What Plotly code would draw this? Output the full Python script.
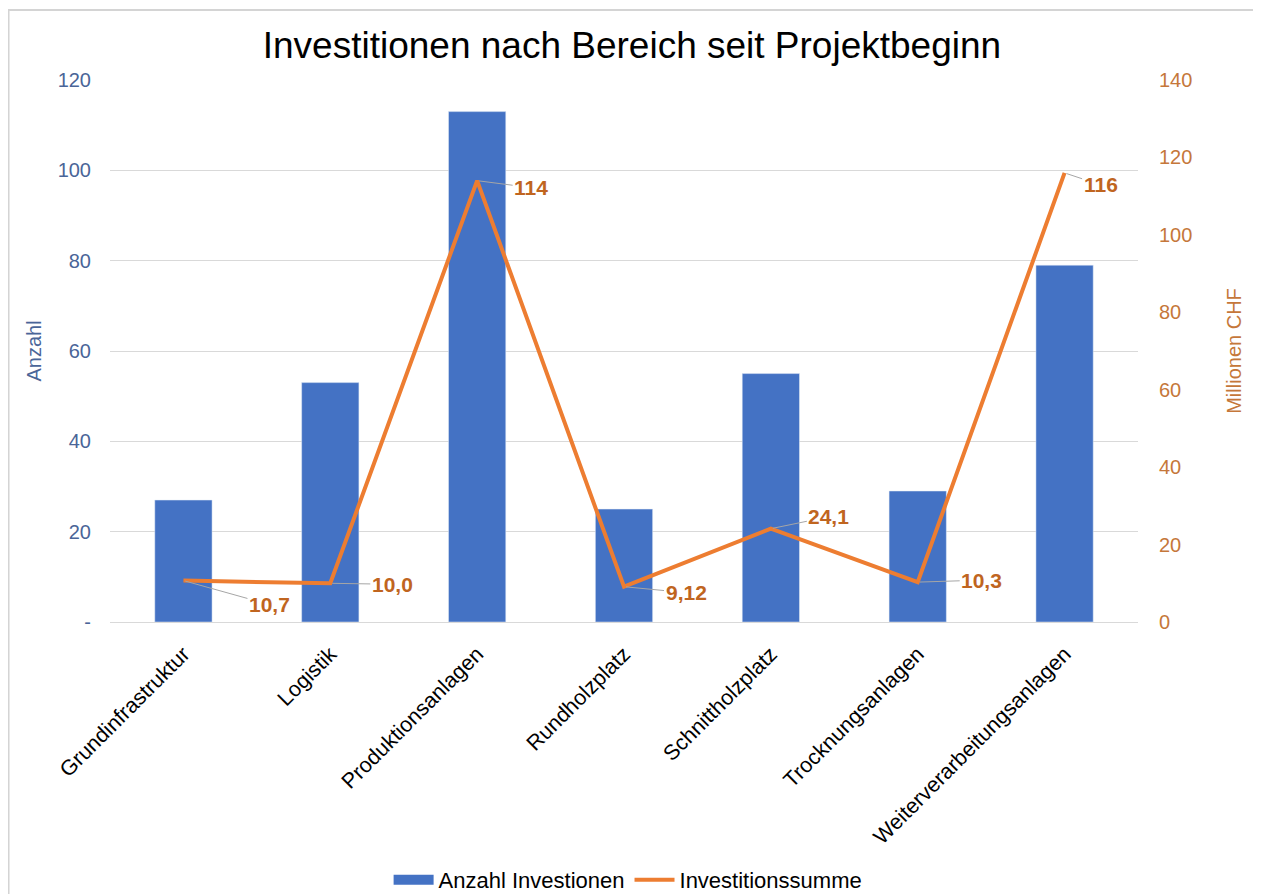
import plotly.graph_objects as go

categories = ["Grundinfrastruktur", "Logistik", "Produktionsanlagen", "Rundholzplatz",
              "Schnittholzplatz", "Trocknungsanlagen", "Weiterverarbeitungsanlagen"]
anzahl = [27, 53, 113, 25, 55, 29, 79]
summe = [10.7, 10.0, 114, 9.12, 24.1, 10.3, 116]
summe_labels = ["10,7", "10,0", "114", "9,12", "24,1", "10,3", "116"]
left_ticks = [0, 20, 40, 60, 80, 100, 120]
left_ticktext = ["-", "20", "40", "60", "80", "100", "120"]
right_ticks = [0, 20, 40, 60, 80, 100, 120, 140]

# label offsets (pixels) for leader-line labels
label_offsets = [(86, 24), (62, 1), (54, 7), (62, 6), (58, -12), (64, -2), (36, 12)]

FONT = "Liberation Sans, Arial, sans-serif"
BLUE = "#4472C4"
ORANGE = "#ED7D31"
LEFT_TICK = "#4A6598"
RIGHT_TICK = "#C5773A"
LABEL = "#C0651F"

fig = go.Figure()
fig.add_trace(go.Bar(x=categories, y=anzahl, name="Anzahl Investionen",
                     marker=dict(color=BLUE), yaxis="y", showlegend=False))
# legend entry drawn as a wide blue block, like the original
fig.add_trace(go.Scatter(x=[None], y=[None], name="Anzahl Investionen", mode="lines",
                         line=dict(color=BLUE, width=10), yaxis="y"))
fig.add_trace(go.Scatter(x=categories, y=summe, name="Investitionssumme", mode="lines",
                         line=dict(color=ORANGE, width=4), yaxis="y2"))

for c, v, t, (ax, ay) in zip(categories, summe, summe_labels, label_offsets):
    fig.add_annotation(x=c, y=v, xref="x", yref="y2", text="<b>%s</b>" % t,
                       showarrow=True, arrowhead=0, arrowwidth=1, arrowcolor="#A6A6A6",
                       ax=ax, ay=ay, standoff=2,
                       font=dict(family=FONT, size=21, color=LABEL))

fig.update_layout(
    width=1261, height=894,
    paper_bgcolor="white", plot_bgcolor="white",
    margin=dict(l=102, r=131, t=72, b=280, autoexpand=False),
    title=dict(text="Investitionen nach Bereich seit Projektbeginn", x=0.4948, xanchor="center",
               xref="container", y=0.9586, yanchor="middle",
               font=dict(family=FONT, size=37, color="#000000")),
    bargap=0.61,
    font=dict(family=FONT),
    xaxis=dict(tickangle=-45, tickfont=dict(family=FONT, size=21.5, color="#000000"),
               showline=True, linecolor="#D9D9D9", linewidth=1, ticks="",
               ticklabelstandoff=10, automargin=False),
    yaxis=dict(range=[0, 120], tickvals=left_ticks, ticktext=left_ticktext,
               tickfont=dict(family=FONT, size=20, color=LEFT_TICK),
               gridcolor="#D9D9D9", gridwidth=1, zeroline=False, ticklabelstandoff=18,
               automargin=False,
               title=dict(text="Anzahl", font=dict(family=FONT, size=20, color=LEFT_TICK),
                          standoff=10)),
    yaxis2=dict(range=[0, 140], tickvals=right_ticks, overlaying="y", side="right",
                tickfont=dict(family=FONT, size=20, color=RIGHT_TICK),
                showgrid=False, zeroline=False, ticklabelstandoff=20, automargin=False,
                title=dict(text="Millionen CHF", font=dict(family=FONT, size=20, color=RIGHT_TICK),
                           standoff=35)),
    legend=dict(orientation="h", x=0.504, xanchor="center", y=-0.476, yanchor="middle",
                font=dict(family=FONT, size=22, color="#000000"), itemwidth=40),
    shapes=[dict(type="rect", xref="paper", yref="paper",
                 x0=-0.0987, x1=1.3, y0=-0.8, y1=1.129,
                 line=dict(color="#D4D4D4", width=2))],
)

fig.write_html("out.html")
